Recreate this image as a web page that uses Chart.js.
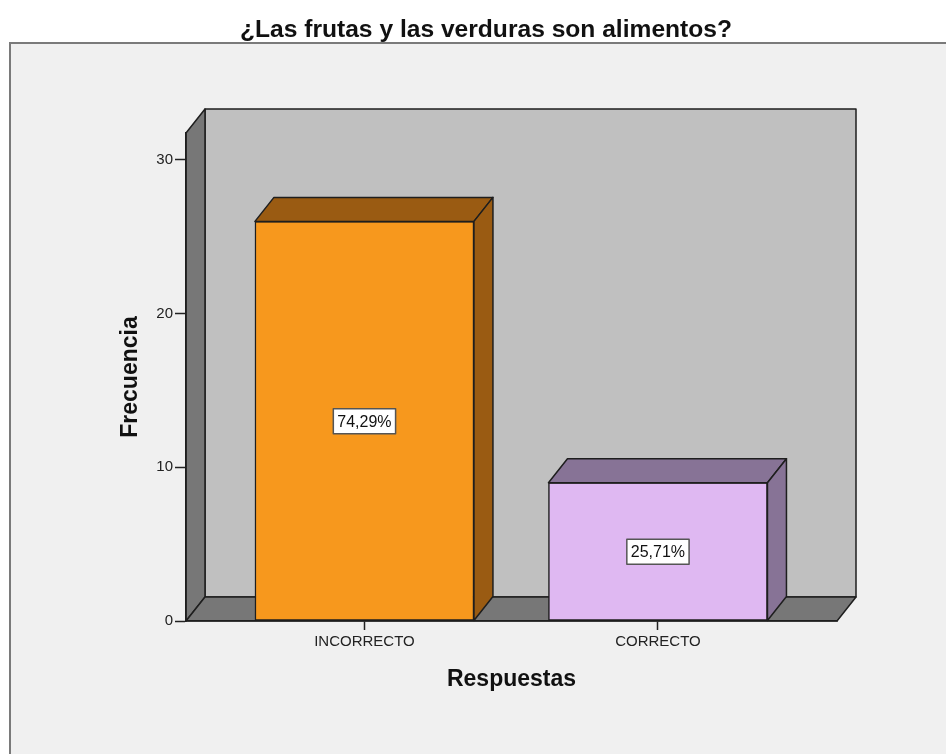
<!DOCTYPE html>
<html>
<head>
<meta charset="utf-8">
<script src="https://cdn.jsdelivr.net/npm/chart.js@4.4.1/dist/chart.umd.min.js"></script>
<style>
  body { margin: 0; background: #ffffff; }
  #wrap { width: 946px; height: 754px; }
</style>
</head>
<body>
<div id="wrap"><canvas id="myChart" width="946" height="754"></canvas></div>
<script>
// datos
const categorias = ['INCORRECTO', 'CORRECTO'];
const frecuencias = [26, 9];
const porcentajes = ['74,29%', '25,71%'];
const coloresFrente = ['#f7981d', '#dfb8f2'];
const coloresLado = ['#9a5b12', '#877396'];
const ticksY = [0, 10, 20, 30];

const fuente = "'Liberation Sans', Arial, sans-serif";
const DX = 19, DY = -24;   // profundidad del efecto 3D

function poly(ctx, pts, fill) {
    ctx.beginPath();
    ctx.moveTo(pts[0][0], pts[0][1]);
    for (let i = 1; i < pts.length; i++) ctx.lineTo(pts[i][0], pts[i][1]);
    ctx.closePath();
    ctx.fillStyle = fill;
    ctx.fill();
    ctx.stroke();
}

const fondo3d = {
    id: 'fondo3d',
    beforeDraw(chart) {
        const ctx = chart.ctx;
        const a = chart.chartArea;
        const y0 = chart.scales.y.getPixelForValue(0);
        ctx.save();
        // marco exterior
        ctx.fillStyle = '#f0f0f0';
        ctx.fillRect(10, 43, chart.width - 10, chart.height - 43);
        ctx.strokeStyle = '#7a7a7a';
        ctx.lineWidth = 2;
        ctx.beginPath();
        ctx.moveTo(10, chart.height);
        ctx.lineTo(10, 43);
        ctx.lineTo(chart.width, 43);
        ctx.stroke();

        ctx.strokeStyle = '#1e1e1e';
        ctx.lineWidth = 1.5;
        ctx.lineJoin = 'round';
        // pared del fondo
        poly(ctx, [[a.left + DX, a.top + DY], [a.right + DX, a.top + DY],
                   [a.right + DX, y0 + DY], [a.left + DX, y0 + DY]], '#c0c0c0');
        // pared izquierda
        poly(ctx, [[a.left, a.top], [a.left + DX, a.top + DY],
                   [a.left + DX, y0 + DY], [a.left, y0]], '#777777');
        // piso
        poly(ctx, [[a.left, y0], [a.left + DX, y0 + DY],
                   [a.right + DX, y0 + DY], [a.right, y0]], '#777777');
        ctx.restore();
    },
    afterDatasetsDraw(chart) {
        const ctx = chart.ctx;
        const meta = chart.getDatasetMeta(0);
        ctx.save();
        ctx.strokeStyle = '#1e1e1e';
        ctx.lineWidth = 1.5;
        ctx.lineJoin = 'round';
        meta.data.forEach((bar, i) => {
            const p = bar.getProps(['x', 'y', 'width', 'base'], true);
            const l = p.x - p.width / 2, r = p.x + p.width / 2;
            poly(ctx, [[l, p.y], [l + DX, p.y + DY], [r + DX, p.y + DY], [r, p.y]], coloresLado[i]);
            poly(ctx, [[r, p.y], [r + DX, p.y + DY], [r + DX, p.base + DY], [r, p.base]], coloresLado[i]);
        });
        // etiquetas de porcentaje
        ctx.font = '16px ' + fuente;
        ctx.textAlign = 'center';
        ctx.textBaseline = 'middle';
        meta.data.forEach((bar, i) => {
            const cx = bar.x;
            const cy = chart.scales.y.getPixelForValue(frecuencias[i] / 2);
            const w = ctx.measureText(porcentajes[i]).width + 8;
            const h = 25;
            ctx.fillStyle = '#ffffff';
            ctx.fillRect(cx - w / 2, cy - h / 2, w, h);
            ctx.strokeStyle = '#555555';
            ctx.lineWidth = 1.5;
            ctx.strokeRect(cx - w / 2, cy - h / 2, w, h);
            ctx.fillStyle = '#111111';
            ctx.fillText(porcentajes[i], cx, cy + 1);
        });
        ctx.restore();
    }
};

const ctx = document.getElementById('myChart').getContext('2d');
const myChart = new Chart(ctx, {
    type: 'bar',
    data: {
        datasets: [{
            data: categorias.map((c, i) => ({ x: i, y: frecuencias[i] })),
            backgroundColor: coloresFrente,
            borderColor: '#1e1e1e',
            borderWidth: 1.5,
            borderSkipped: false,
            barThickness: 219
        }]
    },
    plugins: [fondo3d],
    options: {
        responsive: false,
        animation: false,
        layout: { padding: { left: 26, right: 0, top: 0, bottom: 0 } },
        plugins: {
            legend: { display: false },
            tooltip: { enabled: false },
            title: {
                display: true,
                text: '¿Las frutas y las verduras son alimentos?',
                color: '#111111',
                font: { family: fuente, size: 24.6, weight: 'bold' },
                padding: { top: 15, bottom: 88.5 }
            }
        },
        scales: {
            x: {
                type: 'linear',
                offset: false,
                min: -0.608,
                max: 1.61,
                afterBuildTicks: (s) => { s.ticks = categorias.map((c, i) => ({ value: i })); },
                afterFit: (s) => { s.height = 133; },
                ticks: {
                    callback: (v) => categorias[v],
                    color: '#222222',
                    font: { family: fuente, size: 15 },
                    padding: 3,
                    maxRotation: 0,
                    autoSkip: false
                },
                grid: { offset: false, drawOnChartArea: false, tickLength: 9, tickColor: '#222222', tickWidth: 1.5 },
                border: { display: true, color: '#1e1e1e', width: 1.5 },
                title: {
                    display: true,
                    text: 'Respuestas',
                    color: '#111111',
                    font: { family: fuente, size: 23, weight: 'bold' },
                    padding: { top: 4, bottom: 61 }
                }
            },
            y: {
                min: 0,
                max: 31.75,
                afterBuildTicks: (s) => { s.ticks = ticksY.map(v => ({ value: v })); },
                afterFit: (s) => { s.width = 160; },
                ticks: {
                    color: '#222222',
                    font: { family: fuente, size: 15 },
                    padding: 2
                },
                grid: { drawOnChartArea: false, tickLength: 11, tickColor: '#222222', tickWidth: 1.5 },
                border: { display: true, color: '#1e1e1e', width: 1.5 },
                title: {
                    display: true,
                    text: 'Frecuencia',
                    color: '#111111',
                    font: { family: fuente, size: 23, weight: 'bold' },
                    padding: { top: 91, bottom: 4 }
                }
            },
            derecha: {
                type: 'linear',
                position: 'right',
                display: true,
                afterFit: (s) => { s.width = 109; },
                ticks: { display: false },
                grid: { display: false },
                border: { display: false }
            }
        }
    }
});
</script>
</body>
</html>
